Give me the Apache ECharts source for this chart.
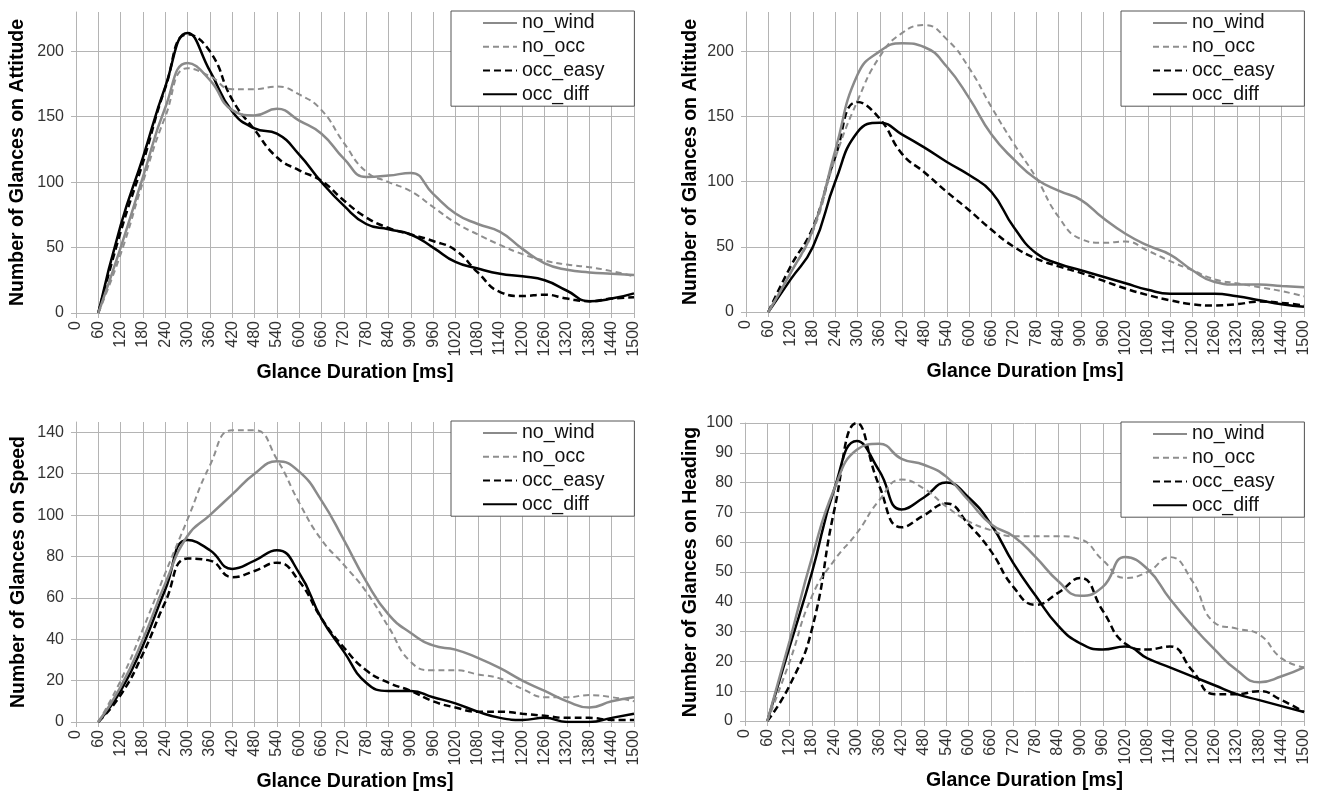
<!DOCTYPE html>
<html>
<head>
<meta charset="utf-8">
<title>Glance Duration</title>
<style>
  html, body { margin: 0; padding: 0; background: #fff; }
  #main { width: 1319px; height: 794px; }
</style>
</head>
<body>
<div id="main"></div>
<script src="https://cdn.jsdelivr.net/npm/echarts@6/dist/echarts.min.js"></script>
<script>
// glance duration bins [ms]
var durations = [60, 120, 180, 240, 300, 360, 420, 480, 540, 600, 660, 720, 780, 840, 900, 960, 1020, 1080, 1140, 1200, 1260, 1320, 1380, 1440, 1500];
var seriesNames = ['no_wind', 'no_occ', 'occ_easy', 'occ_diff'];

// Attitude
var attNoWind  = [0, 50, 104, 157, 191, 178, 155, 151, 156, 147, 137, 118, 104, 105, 107, 91, 76, 68, 62, 49, 38, 33, 31, 30, 29];
var attNoOcc   = [0, 45, 100, 150, 187, 181, 171, 171, 173, 167, 155, 130, 108, 100, 93, 81, 69, 60, 52, 45, 40, 37, 35, 32, 28];
var attOccEasy = [0, 62, 115, 172, 213, 200, 163, 140, 119, 109, 101, 86, 73, 65, 60, 55, 48, 31, 16, 13, 14, 11, 9, 11, 12];
var attOccDiff = [0, 67, 119, 173, 214, 185, 154, 141, 137, 121, 100, 82, 68, 64, 60, 50, 39, 34, 30, 28, 25, 17, 9, 11, 15];

// Altitude
var altNoWind  = [0, 30, 63, 124, 182, 200, 206, 203, 188, 164, 136, 117, 102, 93, 86, 72, 60, 51, 44, 32, 23, 21, 21, 20, 19];
var altNoOcc   = [0, 30, 62, 118, 162, 196, 214, 220, 209, 187, 157, 129, 103, 73, 56, 53, 54, 47, 39, 32, 25, 22, 19, 16, 12];
var altOccEasy = [0, 35, 65, 119, 161, 148, 121, 107, 92, 78, 63, 50, 41, 35, 30, 24, 18, 13, 9, 6, 5, 6, 8, 7, 5];
var altOccDiff = [0, 25, 50, 100, 138, 145, 136, 126, 115, 105, 92, 65, 45, 37, 32, 27, 22, 17, 14, 14, 14, 12, 9, 6, 4];

// Speed
var spdNoWind  = [0, 17, 40, 67, 90, 100, 110, 120, 126, 121, 107, 88, 68, 52, 43, 37, 35, 31, 26, 20, 15, 10, 7, 10, 12];
var spdNoOcc   = [0, 20, 45, 72, 98, 124, 141, 141, 127, 106, 88, 76, 63, 46, 29, 25, 25, 23, 21, 16, 12, 12, 13, 12, 10];
var spdOccEasy = [0, 13, 33, 58, 79, 78, 70, 73, 77, 68, 50, 36, 25, 19, 15, 10, 7, 5, 5, 4, 3, 2, 2, 1, 1];
var spdOccDiff = [0, 15, 37, 64, 88, 83, 74, 78, 83, 72, 50, 34, 19, 15, 15, 12, 9, 5, 2, 1, 2, 0, 0, 2, 4];

// Heading
var hdgNoWind  = [0, 27, 55, 78, 91, 93, 88, 86, 82, 74, 66, 62, 55, 47, 42, 45, 55, 51, 41, 32, 24, 17, 13, 15, 18];
var hdgNoOcc   = [0, 20, 42, 54, 63, 74, 81, 78, 72, 67, 64, 62, 62, 62, 61, 54, 48, 50, 55, 47, 33, 31, 29, 21, 18];
var hdgOccEasy = [0, 12, 31, 71, 100, 79, 65, 69, 73, 66, 57, 45, 39, 43, 48, 37, 26, 24, 25, 17, 9, 9, 10, 7, 3];
var hdgOccDiff = [0, 25, 50, 78, 94, 84, 71, 75, 80, 75, 66, 53, 42, 32, 26, 24, 25, 21, 18, 15, 12, 9, 7, 5, 3];

var fontName = 'Liberation Sans, Arial, sans-serif';
var gridColor = '#b4b4b4';

// panels: grid box, y axis range, titles
var panels = [
  { left: 76,  top: 12,  width: 558, height: 301, max: 230, step: 50, name: 'Number of Glances on Attitude', gap: 48, lines: [attNoWind, attNoOcc, attOccEasy, attOccDiff] },
  { left: 746, top: 12,  width: 558, height: 300, max: 230, step: 50, name: 'Number of Glances on Altitude', gap: 45, lines: [altNoWind, altNoOcc, altOccEasy, altOccDiff] },
  { left: 76,  top: 422, width: 558, height: 300, max: 145, step: 20, name: 'Number of Glances on Speed',    gap: 47, lines: [spdNoWind, spdNoOcc, spdOccEasy, spdOccDiff] },
  { left: 745, top: 423, width: 559, height: 298, max: 100, step: 10, name: 'Number of Glances on Heading',  gap: 44, lines: [hdgNoWind, hdgNoOcc, hdgOccEasy, hdgOccDiff] }
];

// line look of each condition
var looks = [
  { color: '#8a8a8a', width: 2.5, type: 'solid' },
  { color: '#8e8e8e', width: 2,   type: [6, 4] },
  { color: '#000000', width: 2.5, type: [7, 4] },
  { color: '#000000', width: 2.5, type: 'solid' }
];

var grids = [], xAxes = [], yAxes = [], series = [], legends = [];

panels.forEach(function (p, i) {
  grids.push({ left: p.left, top: p.top, width: p.width, height: p.height, containLabel: false });

  xAxes.push({
    gridIndex: i,
    type: 'value',
    min: 0,
    max: 1500,
    interval: 60,
    name: 'Glance Duration [ms]',
    nameLocation: 'middle',
    nameGap: 50,
    nameTextStyle: { fontFamily: fontName, fontSize: 19.5, fontWeight: 'bold', color: '#000' },
    axisLine: { show: true, onZero: false, lineStyle: { color: gridColor, width: 1 } },
    axisTick: { show: true, length: 5, lineStyle: { color: gridColor } },
    axisLabel: {
      rotate: 90, margin: 8, fontFamily: fontName, fontSize: 16, color: '#333',
      formatter: function (v) { return String(v); }
    },
    splitLine: { show: true, lineStyle: { color: gridColor, width: 1 } }
  });

  yAxes.push({
    gridIndex: i,
    type: 'value',
    min: 0,
    max: p.max,
    interval: p.step,
    name: p.name,
    nameLocation: 'middle',
    nameGap: p.gap,
    nameTextStyle: { fontFamily: fontName, fontSize: 19.5, fontWeight: 'bold', color: '#000' },
    axisLine: { show: true, lineStyle: { color: gridColor, width: 1 } },
    axisTick: { show: true, length: 5, lineStyle: { color: gridColor } },
    axisLabel: { margin: 12, fontFamily: fontName, fontSize: 16, color: '#333', showMaxLabel: p.max % p.step === 0 },
    splitLine: { show: true, showMaxLine: p.max % p.step === 0, lineStyle: { color: gridColor, width: 1 } }
  });

  p.lines.forEach(function (vals, k) {
    series.push({
      name: seriesNames[k],
      type: 'line',
      xAxisIndex: i,
      yAxisIndex: i,
      data: durations.map(function (t, j) { return [t, vals[j]]; }),
      smooth: 0.5,
      symbol: 'none',
      z: 10 - k,
      lineStyle: { color: looks[k].color, width: looks[k].width, type: looks[k].type },
      itemStyle: { color: looks[k].color }
    });
  });

  legends.push({
    data: seriesNames,
    orient: 'vertical',
    left: p.left + p.width - 183,
    top: p.top - 1,
    padding: [0, 30, 0, 31],
    itemGap: 0,
    itemWidth: 34,
    itemHeight: 14,
    backgroundColor: '#fff',
    borderColor: '#555',
    borderWidth: 1,
    selectedMode: false,
    // hide the circle marker, keep only the line sample
    itemStyle: { opacity: 0 },
    textStyle: { fontFamily: fontName, fontSize: 19.5, color: '#111', lineHeight: 23.8 }
  });
});

var myChart = echarts.init(document.getElementById('main'));
myChart.setOption({
  animation: false,
  backgroundColor: '#fff',
  grid: grids,
  xAxis: xAxes,
  yAxis: yAxes,
  legend: legends,
  series: series
});
</script>
</body>
</html>
